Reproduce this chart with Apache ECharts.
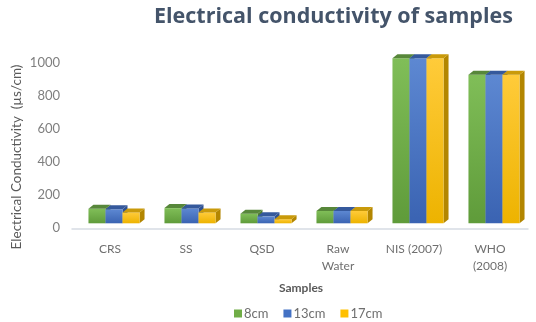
<!DOCTYPE html>
<html>
<head>
<meta charset="utf-8">
<script src="https://cdn.jsdelivr.net/npm/echarts@6/dist/echarts.min.js"></script>
<style>html,body{margin:0;padding:0;background:#fff}#c{width:536px;height:322px}</style>
</head>
<body>
<div id="c"></div>
<script>
const categories = ['CRS', 'SS', 'QSD', 'Raw\nWater', 'NIS (2007)', 'WHO\n(2008)'];
const seriesNames = ['8cm', '13cm', '17cm'];
const values8cm = [88, 92, 58, 75, 1000, 900];
const values13cm = [85, 90, 42, 75, 1000, 900];
const values17cm = [66, 66, 25, 75, 1000, 900];
const yTicks = [0, 200, 400, 600, 800, 1000];

const allValues = [values8cm, values13cm, values17cm];
const palettes = [
  {top: '#80BE58', bot: '#5F9B3A', cap: '#57873A', side: '#4F7D30', legend: '#70AD47'},
  {top: '#5D88D2', bot: '#3A63B2', cap: '#35599C', side: '#2F5191', legend: '#4472C4'},
  {top: '#FFCB3A', bot: '#EDB300', cap: '#C99A0A', side: '#B38600', legend: '#FFC000'}
];

const chart = echarts.init(document.getElementById('c'), null, {renderer: 'canvas'});
const DX = 5, DY = 4, LIFT = 5, SHIFT = 4;

function makeRender(s) {
  const p = palettes[s];
  return function (params, api) {
    const idx = api.value(0);
    const top = api.coord([idx, api.value(1)]);
    const base = api.coord([idx, 0]);
    const band = api.size([1, 0])[0];
    const bw = band * 0.224;
    const x0 = top[0] + SHIFT - 1.5 * bw + s * bw;
    const yT = top[1] - LIFT;
    const yB = base[1] - LIFT;
    return {
      type: 'group',
      children: [
        {type: 'polygon', shape: {points: [[x0 + bw, yT], [x0 + bw + DX, yT - DY], [x0 + bw + DX, yB - DY], [x0 + bw, yB]]},
          style: {fill: p.side}},
        {type: 'rect', shape: {x: x0, y: yT, width: bw, height: yB - yT},
          style: {fill: new echarts.graphic.LinearGradient(0, 0, 0, 1, [{offset: 0, color: p.top}, {offset: 1, color: p.bot}])}},
        {type: 'polygon', shape: {points: [[x0, yT], [x0 + bw, yT], [x0 + bw + DX, yT - DY], [x0 + DX, yT - DY]]},
          style: {fill: p.cap}}
      ]
    };
  };
}

const series = seriesNames.map((name, s) => ({
  name: name,
  type: 'custom',
  renderItem: makeRender(s),
  clip: false,
  itemStyle: {color: palettes[s].legend},
  encode: {x: 0, y: 1},
  data: allValues[s].map((v, i) => [i, v])
}));

chart.setOption({
  animation: false,
  backgroundColor: '#fff',
  textStyle: {fontFamily: 'Lato'},
  title: {
    text: 'Electrical conductivity of samples',
    left: 149, top: 1,
    textStyle: {fontFamily: 'Open Sans', fontSize: 21.5, fontWeight: 'bold', color: '#44546A'}
  },
  legend: {
    data: seriesNames,
    left: 229, top: 302,
    icon: 'rect', itemWidth: 8, itemHeight: 8, itemGap: 15,
    textStyle: {fontFamily: 'Lato', fontSize: 13, color: '#6F6F6F', padding: [0, 0, 0, -3]}
  },
  grid: {left: 72, right: 8, top: 63.3, bottom: 93.7},
  xAxis: {
    type: 'category',
    data: categories,
    axisLine: {lineStyle: {color: '#D6DCE4', width: 1.5}},
    axisTick: {show: false},
    axisLabel: {fontFamily: 'Lato', fontSize: 12, color: '#6F6F6F', margin: 12, lineHeight: 17}
  },
  yAxis: {
    type: 'value',
    min: 0, max: 1000, interval: 200,
    axisLine: {show: false},
    axisTick: {show: false},
    splitLine: {show: false},
    axisLabel: {fontFamily: 'Lato', fontSize: 13, color: '#7F7F7F', margin: 12,
      formatter: v => yTicks.includes(v) ? String(v) : ''}
  },
  graphic: [
    {type: 'text', x: 17, y: 157, rotation: Math.PI / 2,
      style: {text: 'Electrical Conductivity  (µs/cm)', fontFamily: 'Lato', fontSize: 13.5, fill: '#595959',
        align: 'center', verticalAlign: 'middle'}},
    {type: 'text', x: 301, y: 288,
      style: {text: 'Samples', fontFamily: 'Lato', fontSize: 12, fontWeight: 'bold', fill: '#595959',
        align: 'center', verticalAlign: 'middle'}}
  ],
  series: series
});
</script>
</body>
</html>
